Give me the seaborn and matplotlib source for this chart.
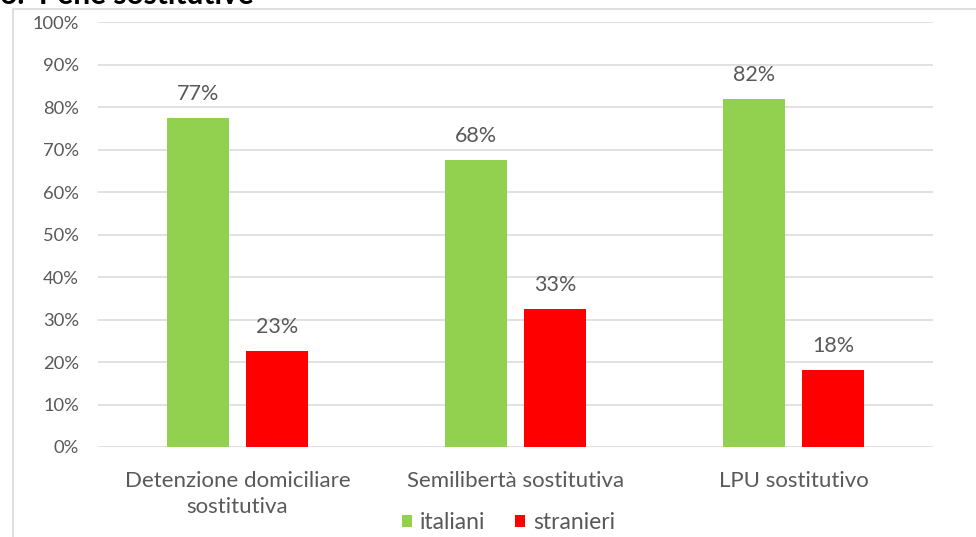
import pandas as pd
import matplotlib.pyplot as plt
import seaborn as sns
from matplotlib.patches import Rectangle

# data
categorie = ["Detenzione domiciliare\nsostitutiva", "Semilibertà sostitutiva", "LPU sostitutivo"]
italiani = [77.4, 67.5, 81.9]
stranieri = [22.6, 32.5, 18.1]
gruppi = ["italiani", "stranieri"]
colori = ["#92D050", "#FF0000"]
y_ticks = list(range(0, 101, 10))

df = pd.DataFrame({
    "categoria": categorie * 2,
    "gruppo": ["italiani"] * 3 + ["stranieri"] * 3,
    "valore": italiani + stranieri,
})

sns.set_theme(style="white")
plt.rcParams['font.family'] = ['Lato', 'DejaVu Sans']
grigio = "#595959"

fig = plt.figure(figsize=(9.76, 5.37), dpi=100)
ax = fig.add_axes([0.1009, 0.1676, 0.855, 0.7914])

sns.barplot(data=df, x="categoria", y="valore", hue="gruppo",
            order=categorie, hue_order=gruppi, palette=colori,
            width=0.568, gap=0.215, linewidth=0, saturation=1,
            errorbar=None, ax=ax)

for cont in ax.containers:
    ax.bar_label(cont, labels=[f"{int(v + 0.5)}%" for v in cont.datavalues],
                 padding=10, fontsize=15.5, color=grigio)

ax.set_ylim(0, 100)
ax.set_xlim(-0.5, 2.5)
ax.set_yticks(y_ticks)
ax.set_yticklabels([f"{t}%" for t in y_ticks])
ax.yaxis.grid(True, color="#D9D9D9", linewidth=1.1)
ax.set_axisbelow(True)
for s in ax.spines.values():
    s.set_visible(False)
ax.tick_params(axis="y", length=0, pad=14, labelsize=13.2, labelcolor=grigio)
ax.tick_params(axis="x", length=0, pad=17, labelsize=16, labelcolor=grigio)
for lab in ax.get_xticklabels():
    lab.set_linespacing(1.4)
ax.set_xlabel("")
ax.set_ylabel("")

handles, labels = ax.get_legend_handles_labels()
ax.get_legend().remove()
fig.legend(handles, labels, loc="center", bbox_to_anchor=(0.521, 0.027), ncol=2,
           frameon=False, handlelength=0.45, handleheight=0.45, handletextpad=0.35,
           columnspacing=1.3, fontsize=16.5, labelcolor=grigio)

# cornice del grafico
fig.patches.append(Rectangle((13 / 976, -0.05), 1.1, 1 - 9 / 537 + 0.05,
                             transform=fig.transFigure, fill=False,
                             edgecolor="#D9D9D9", linewidth=1.2, clip_on=False))

# titolo tagliato in alto (come nello screenshot)
fig.text(0.0, 1.0 - 3.5 / 537, "6.  Pene sostitutive", fontsize=21.5, color="black",
         ha="left", va="baseline", fontweight="bold")

fig.savefig("out.png", dpi=100)
